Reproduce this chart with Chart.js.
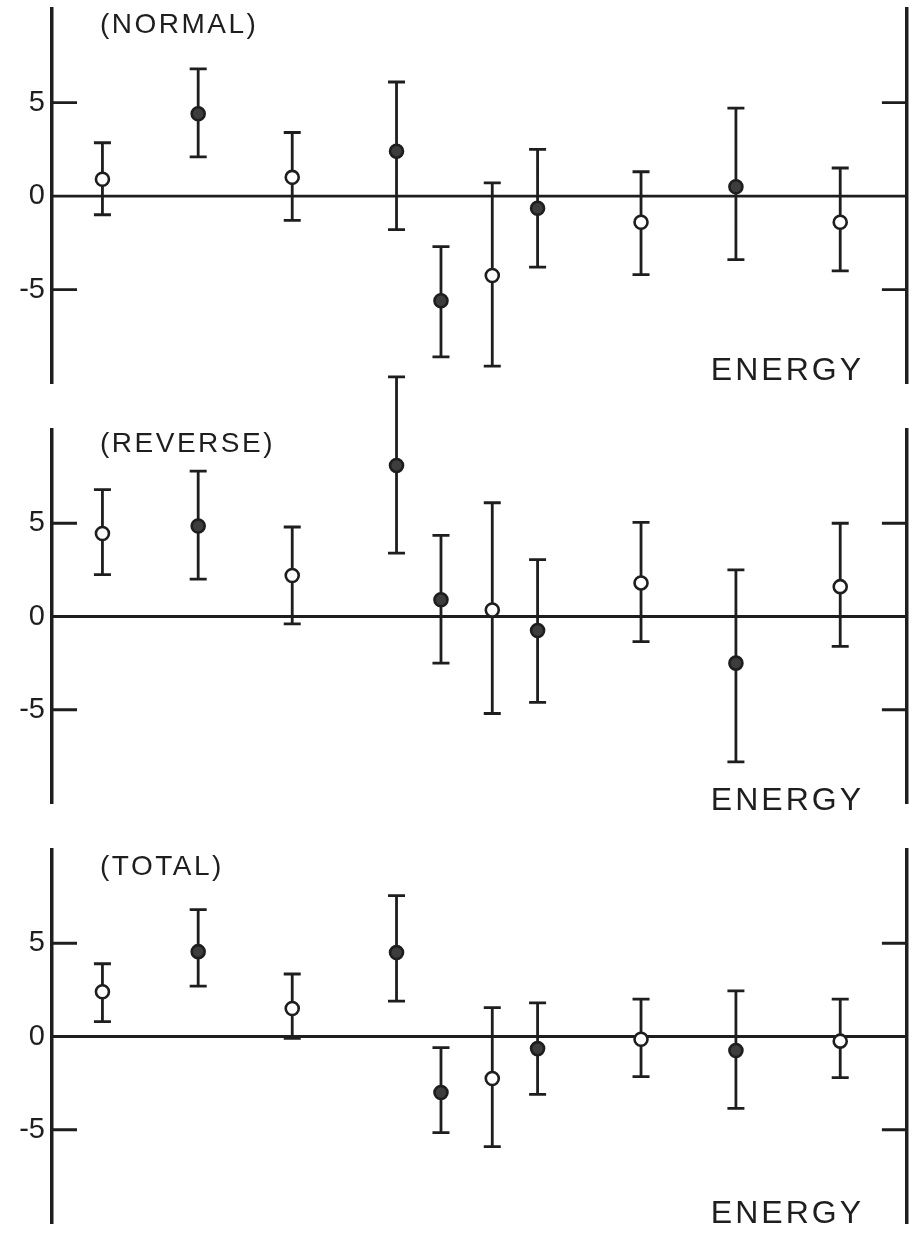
<!DOCTYPE html>
<html>
<head>
<meta charset="utf-8">
<script src="https://cdn.jsdelivr.net/npm/chart.js@4.4.0/dist/chart.umd.min.js"></script>
<style>
  html, body { margin: 0; padding: 0; background: #fff; }
  #wrap { position: relative; width: 916px; height: 1236px; overflow: hidden; background: #fff; }
  canvas { position: absolute; left: 0; }
</style>
</head>
<body>
<div id="wrap">
  <canvas id="normal" width="916" height="400" style="top:0"></canvas>
  <canvas id="reverse" width="916" height="460" style="top:360px"></canvas>
  <canvas id="total" width="916" height="436" style="top:800px"></canvas>
</div>
<script>
// energy positions of the bins (arbitrary units, 0..100 across the frame)
const energy = [5.9, 17.1, 28.1, 40.3, 45.5, 51.5, 56.8, 68.9, 80.0, 92.2];
const filled = [false, true, false, true, true, false, true, false, true, false];
const yTicks = [-5, 0, 5];

const normalValues = [0.9, 4.4, 1.0, 2.4, -5.6, -4.25, -0.65, -1.4, 0.5, -1.4];
const normalHigh = [2.85, 6.8, 3.4, 6.1, -2.7, 0.7, 2.5, 1.3, 4.7, 1.5];
const normalLow = [-1.0, 2.1, -1.3, -1.8, -8.6, -9.1, -3.8, -4.2, -3.4, -4.0];

const reverseValues = [4.45, 4.85, 2.2, 8.1, 0.9, 0.35, -0.75, 1.8, -2.5, 1.6];
const reverseHigh = [6.8, 7.8, 4.8, 12.85, 4.35, 6.1, 3.05, 5.05, 2.5, 5.0];
const reverseLow = [2.25, 2.0, -0.4, 3.4, -2.5, -5.2, -4.6, -1.35, -7.8, -1.6];

const totalValues = [2.4, 4.55, 1.5, 4.5, -3.0, -2.25, -0.65, -0.15, -0.75, -0.25];
const totalHigh = [3.9, 6.8, 3.35, 7.55, -0.6, 1.55, 1.8, 2.0, 2.45, 2.0];
const totalLow = [0.8, 2.7, -0.1, 1.9, -5.15, -5.9, -3.1, -2.15, -3.85, -2.2];

const ink = '#1e1e1e';
const fillInk = '#3d3d3d';
const fontFamily = '"Liberation Sans", Arial, sans-serif';

Chart.defaults.font.family = fontFamily;
Chart.defaults.color = ink;

// zero line, inward ticks, error bars and panel captions
const frame = {
    id: 'frame',
    beforeDatasetsDraw(chart, args, opts) {
        const {ctx, chartArea: a, scales: {x, y}} = chart;
        ctx.save();
        ctx.strokeStyle = ink;
        ctx.lineWidth = 2.8;

        ctx.beginPath();
        const y0 = y.getPixelForValue(0);
        ctx.moveTo(a.left, y0);
        ctx.lineTo(a.right, y0);
        yTicks.forEach(v => {
            const py = y.getPixelForValue(v);
            ctx.moveTo(a.left, py);
            ctx.lineTo(a.left + 25, py);
            ctx.moveTo(a.right - 25, py);
            ctx.lineTo(a.right, py);
        });
        ctx.stroke();

        // error bars
        ctx.beginPath();
        energy.forEach((e, i) => {
            const px = x.getPixelForValue(e);
            const top = y.getPixelForValue(opts.high[i]);
            const bot = y.getPixelForValue(opts.low[i]);
            ctx.moveTo(px, top);
            ctx.lineTo(px, bot);
            ctx.moveTo(px - 8.5, top);
            ctx.lineTo(px + 8.5, top);
            ctx.moveTo(px - 8.5, bot);
            ctx.lineTo(px + 8.5, bot);
        });
        ctx.stroke();

        ctx.fillStyle = ink;
        ctx.textBaseline = 'alphabetic';
        ctx.font = '28px ' + fontFamily;
        ctx.letterSpacing = '2.5px';
        ctx.textAlign = 'left';
        ctx.fillText(opts.label, 100, a.top + opts.labelDy);

        ctx.font = '32px ' + fontFamily;
        ctx.letterSpacing = '3px';
        ctx.textAlign = 'right';
        ctx.fillText('ENERGY', 864, a.bottom + opts.energyDy);
        ctx.restore();
    }
};

function fixWidth(w) {
    return s => {
        s.width = w;
        s.paddingTop = 0;
        s.paddingBottom = 0;
    };
}

function makePanel(id, values, low, high, label, padTop, padBottom, labelDy, energyDy) {
    const ctx = document.getElementById(id).getContext('2d');
    return new Chart(ctx, {
        type: 'scatter',
        data: {
            datasets: [{
                data: energy.map((e, i) => ({x: e, y: values[i]})),
                pointRadius: 6.5,
                pointBorderWidth: 2.6,
                pointBorderColor: ink,
                pointBackgroundColor: filled.map(f => f ? fillInk : '#ffffff'),
                showLine: false
            }]
        },
        options: {
            responsive: false,
            animation: false,
            layout: {
                padding: {left: 0, right: 5, top: padTop, bottom: padBottom}
            },
            plugins: {
                legend: {display: false},
                tooltip: {enabled: false},
                frame: {low: low, high: high, label: label, labelDy: labelDy, energyDy: energyDy}
            },
            scales: {
                x: {
                    type: 'linear',
                    min: 0,
                    max: 100,
                    display: false
                },
                y: {
                    type: 'linear',
                    position: 'left',
                    min: -10,
                    max: 10,
                    afterBuildTicks: s => { s.ticks = yTicks.map(v => ({value: v})); },
                    afterFit: fixWidth(52),
                    grid: {display: false, drawTicks: false},
                    border: {display: true, color: ink, width: 3.5},
                    ticks: {
                        padding: 7,
                        color: ink,
                        font: {size: 29}
                    }
                },
                y2: {
                    type: 'linear',
                    position: 'right',
                    min: -10,
                    max: 10,
                    afterFit: fixWidth(0),
                    grid: {display: false, drawTicks: false},
                    border: {display: true, color: ink, width: 3.5},
                    ticks: {display: false}
                }
            }
        },
        plugins: [frame]
    });
}

makePanel('normal', normalValues, normalLow, normalHigh, '(NORMAL)', 9, 17, 24, -3);
makePanel('reverse', reverseValues, reverseLow, reverseHigh, '(REVERSE)', 70, 17, 22, 7);
makePanel('total', totalValues, totalLow, totalHigh, '(TOTAL)', 50, 13, 25, 0);
</script>
</body>
</html>
